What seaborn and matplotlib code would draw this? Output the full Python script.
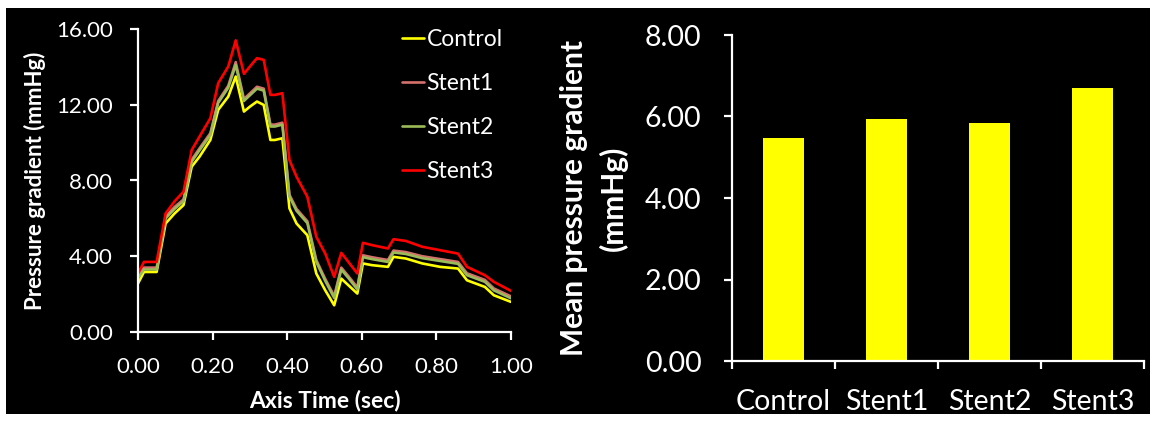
import matplotlib
matplotlib.use("Agg")
import matplotlib.pyplot as plt
from matplotlib.patches import Rectangle
import seaborn as sns
import pandas as pd
import numpy as np

# ---------------- data ----------------
time_sec = [0.0, 0.016, 0.05, 0.074, 0.098, 0.122, 0.144, 0.165, 0.194, 0.215,
            0.242, 0.262, 0.284, 0.3, 0.319, 0.337, 0.355, 0.367, 0.387, 0.406,
            0.425, 0.454, 0.478, 0.502, 0.526, 0.545, 0.564, 0.588, 0.603, 0.627,
            0.67, 0.685, 0.718, 0.762, 0.81, 0.858, 0.882, 0.93, 0.954, 1.0]

control = [2.56, 3.17, 3.17, 5.73, 6.26, 6.7, 8.73, 9.26, 10.14, 11.73,
           12.43, 13.49, 11.64, 11.9, 12.17, 11.99, 10.14, 10.14, 10.23, 6.53,
           5.73, 5.11, 3.09, 2.2, 1.41, 2.82, 2.47, 2.03, 3.62, 3.53,
           3.44, 3.97, 3.88, 3.62, 3.44, 3.35, 2.73, 2.38, 1.94, 1.59]

stent1 = [2.95, 3.4, 3.4, 6.1, 6.6, 7.0, 9.1, 9.7, 10.5, 12.2,
          13.0, 14.25, 12.3, 12.6, 12.95, 12.85, 10.95, 10.95, 11.05, 7.25,
          6.5, 5.85, 3.8, 2.8, 1.9, 3.4, 2.95, 2.35, 4.05, 3.95,
          3.8, 4.3, 4.22, 4.0, 3.85, 3.7, 3.1, 2.75, 2.3, 1.88]

stent2 = [2.85, 3.3, 3.3, 6.0, 6.5, 6.9, 9.0, 9.6, 10.4, 12.1,
          12.9, 14.1, 12.2, 12.5, 12.85, 12.75, 10.85, 10.85, 10.95, 7.15,
          6.4, 5.75, 3.7, 2.7, 1.8, 3.3, 2.85, 2.25, 3.95, 3.85,
          3.7, 4.2, 4.12, 3.9, 3.75, 3.6, 3.0, 2.65, 2.2, 1.78]

stent3 = [3.09, 3.7, 3.7, 6.26, 6.9, 7.41, 9.61, 10.32, 11.29, 13.14,
          14.02, 15.4, 13.63, 14.02, 14.46, 14.37, 12.52, 12.52, 12.61, 9.08,
          8.2, 7.14, 5.03, 4.14, 2.91, 4.18, 3.7, 3.09, 4.71, 4.59,
          4.41, 4.9, 4.81, 4.5, 4.32, 4.14, 3.44, 3.0, 2.65, 2.17]

series_names = ["Control", "Stent1", "Stent2", "Stent3"]
series_colors = ["#FFFF00", "#D4716C", "#9BBB59", "#FF0000"]

categories = ["Control", "Stent1", "Stent2", "Stent3"]
mean_gradient = [5.47, 5.94, 5.84, 6.70]

left_yticks = [0, 4, 8, 12, 16]
left_xticks = [0.0, 0.2, 0.4, 0.6, 0.8, 1.0]
right_yticks = [0, 2, 4, 6, 8]

# ---------------- style ----------------
sns.set_theme(style="ticks")
plt.rcParams['font.family'] = ['Lato', 'DejaVu Sans']
plt.rcParams['text.color'] = 'white'
plt.rcParams['axes.labelcolor'] = 'white'
plt.rcParams['xtick.color'] = 'white'
plt.rcParams['ytick.color'] = 'white'

W, H = 1153, 423
fig = plt.figure(figsize=(W / 100, H / 100), dpi=100, facecolor='white')
# black panel
fig.patches.append(Rectangle((6 / W, 1 - 414 / H), (1150 - 6) / W, (414 - 8) / H,
                             transform=fig.transFigure, facecolor='black',
                             edgecolor='none', zorder=-10))

def px_axes(x0, x1, ytop, ybot):
    return fig.add_axes([x0 / W, 1 - ybot / H, (x1 - x0) / W, (ybot - ytop) / H])

ax1 = px_axes(138, 511, 29, 332)
ax2 = px_axes(732, 1144, 35, 361)

for ax in (ax1, ax2):
    ax.set_facecolor('none')
    ax.set_zorder(5)
    for s in ('top', 'right'):
        ax.spines[s].set_visible(False)
    for s in ('left', 'bottom'):
        ax.spines[s].set_color('white')
        ax.spines[s].set_linewidth(1.6)

# ---------------- left: line chart ----------------
series = [control, stent1, stent2, stent3]
for name, vals, col in zip(series_names, series, series_colors):
    df = pd.DataFrame({"t": time_sec, "v": vals})
    sns.lineplot(data=df, x="t", y="v", ax=ax1, color=col, linewidth=1.9,
                 label=name)
for ln in ax1.get_lines():
    ln.set_solid_joinstyle('round')

ax1.set_xlim(0, 1)
ax1.set_ylim(0, 16)
ax1.set_xticks(left_xticks)
ax1.set_xticklabels([f"{v:.2f}" for v in left_xticks])
ax1.set_yticks(left_yticks)
ax1.set_yticklabels([f"{v:.2f}" for v in left_yticks])
ax1.tick_params(axis='both', direction='out', length=6, width=1.6,
                labelsize=16, colors='white')
ax1.tick_params(axis='y', pad=12)
ax1.tick_params(axis='x', pad=12)
ax1.set_xlabel("Axis Time (sec)", fontsize=16.5, fontweight='bold', labelpad=9)
ax1.set_ylabel("Pressure gradient (mmHg)", fontsize=16, fontweight='bold',
               labelpad=7)

leg = ax1.legend(loc='upper left', bbox_to_anchor=(402 / W, 1 - 29 / H),
                 bbox_transform=fig.transFigure, frameon=False, fontsize=16.5,
                 handlelength=0.95, handletextpad=0.12, labelspacing=1.0,
                 borderpad=0, borderaxespad=0)
for t in leg.get_texts():
    t.set_color('white')

# ---------------- right: bar chart ----------------
bdf = pd.DataFrame({"cat": categories, "val": mean_gradient})
sns.barplot(data=bdf, x="cat", y="val", ax=ax2, color="#FFFF00",
            saturation=1, width=0.39, edgecolor='none')
ax2.set_xlim(-0.5, 3.5)
ax2.set_ylim(0, 8)
ax2.set_yticks(right_yticks)
ax2.set_yticklabels([f"{v:.2f}" for v in right_yticks])
ax2.set_xticks([-0.5, 0.5, 1.5, 2.5, 3.5])
ax2.set_xticklabels([])
ax2.set_xticks(range(len(categories)), minor=True)
ax2.set_xticklabels(categories, minor=True)
ax2.tick_params(axis='both', which='major', direction='out', length=6,
                width=1.6, labelsize=20.5, colors='white')
ax2.tick_params(axis='y', pad=16)
ax2.tick_params(axis='x', which='minor', length=0, labelsize=20.5, pad=20,
                colors='white')
ax2.set_xlabel("")
ax2.set_ylabel("Mean pressure gradient\n(mmHg)", fontsize=21.5,
               fontweight='bold', labelpad=12, linespacing=1.45)

fig.savefig("out.png", dpi=100, facecolor=fig.get_facecolor())
